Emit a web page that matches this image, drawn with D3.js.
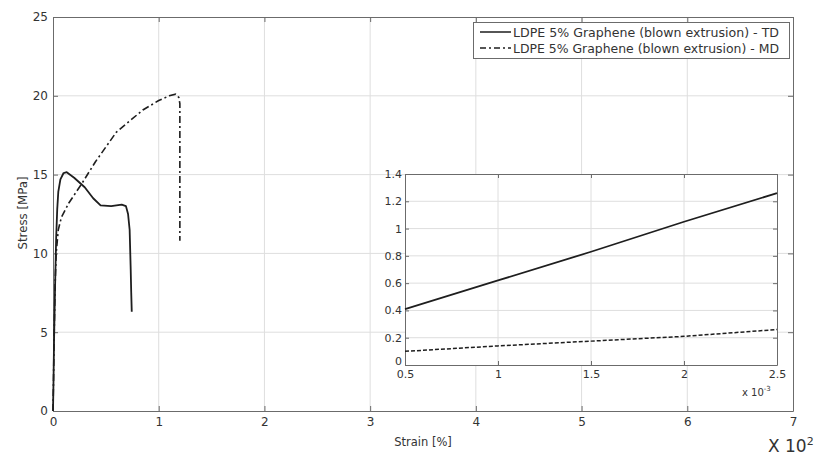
<!DOCTYPE html>
<html>
<head>
<meta charset="utf-8">
<script src="https://cdn.jsdelivr.net/npm/d3@7"></script>
<style>
  body { margin: 0; background: #fff; }
  text { font-family: "DejaVu Sans", "Liberation Sans", sans-serif; fill: #333; }
</style>
</head>
<body>
<div id="chart"></div>
<script>
// Main plot data (strain in units of 10^2 %, stress in MPa)
const tdStrain = [0, 0.005, 0.01, 0.02, 0.03, 0.04, 0.05, 0.07, 0.1, 0.13, 0.2, 0.3, 0.38, 0.45, 0.55, 0.65, 0.69, 0.71, 0.725, 0.735, 0.74, 0.745];
const tdStress = [0, 2, 4.5, 8, 11, 12.8, 13.9, 14.7, 15.1, 15.15, 14.8, 14.2, 13.5, 13.05, 13.0, 13.1, 13.0, 12.5, 11.5, 9.0, 7.5, 6.3];

const mdStrain = [0, 0.005, 0.01, 0.02, 0.03, 0.05, 0.08, 0.15, 0.27, 0.4, 0.6, 0.85, 1.0, 1.1, 1.16, 1.19, 1.2, 1.2];
const mdStress = [0, 2, 4.5, 8, 10, 11.5, 12.3, 13.2, 14.4, 15.8, 17.7, 19.1, 19.7, 20.0, 20.1, 19.9, 19.5, 10.8];

// Inset data (strain x 10^-3, stress)
const insetStrain = [0.5, 1, 1.5, 2, 2.5];
const insetTD = [0.41, 0.62, 0.83, 1.05, 1.26];
const insetMD = [0.10, 0.14, 0.175, 0.21, 0.26];

const xTicks = [0, 1, 2, 3, 4, 5, 6, 7];
const yTicks = [0, 5, 10, 15, 20, 25];
const insetXTicks = [0.5, 1, 1.5, 2, 2.5];
const insetYTicks = [0, 0.2, 0.4, 0.6, 0.8, 1, 1.2, 1.4];
const legendLabels = ['LDPE 5% Graphene (blown extrusion) - TD', 'LDPE 5% Graphene (blown extrusion) - MD'];

const W = 822, H = 461;
const svg = d3.select('#chart').append('svg')
    .attr('width', W).attr('height', H);

const frameColor = '#6b6b6b';
const gridColor = '#dedede';
const inkColor = '#1e1e1e';
const mdDash = '7,3,2,3';

// Scales
const x = d3.scaleLinear().domain([0, 7]).range([53, 793]);
const y = d3.scaleLinear().domain([0, 25]).range([411, 17]);

// Grid
const grid = svg.append('g');
grid.selectAll('.gx').data(xTicks.slice(1, -1)).join('line')
    .attr('x1', d => x(d)).attr('x2', d => x(d))
    .attr('y1', y(0)).attr('y2', y(25))
    .attr('stroke', gridColor).attr('stroke-width', 1);
grid.selectAll('.gy').data(yTicks.slice(1, -1)).join('line')
    .attr('x1', x(0)).attr('x2', x(7))
    .attr('y1', d => y(d)).attr('y2', d => y(d))
    .attr('stroke', gridColor).attr('stroke-width', 1);

// Axes with inward ticks
function styleAxis(g) {
    g.select('.domain').attr('stroke', frameColor);
    g.selectAll('.tick line').attr('stroke', frameColor);
    g.selectAll('.tick text').attr('fill', '#333').style('font-family', '"DejaVu Sans", sans-serif');
}

svg.append('g').attr('transform', `translate(0,${y(0)})`)
    .call(d3.axisBottom(x).tickValues(xTicks).tickSizeInner(-5).tickSizeOuter(0).tickPadding(6).tickFormat(d3.format('d')))
    .call(styleAxis).style('font-size', '12px');
svg.append('g').attr('transform', `translate(0,${y(25)})`)
    .call(d3.axisTop(x).tickValues(xTicks).tickSizeInner(-5).tickSizeOuter(0).tickFormat(''))
    .call(styleAxis);
svg.append('g').attr('transform', `translate(${x(0)},0)`)
    .call(d3.axisLeft(y).tickValues(yTicks).tickSizeInner(-5).tickSizeOuter(0).tickPadding(5).tickFormat(d3.format('d')))
    .call(styleAxis).style('font-size', '12px');
svg.append('g').attr('transform', `translate(${x(7)},0)`)
    .call(d3.axisRight(y).tickValues(yTicks).tickSizeInner(-5).tickSizeOuter(0).tickFormat(''))
    .call(styleAxis);

// Curves
const line = d3.line().x(d => x(d[0])).y(d => y(d[1]));
svg.append('path')
    .datum(d3.zip(tdStrain, tdStress))
    .attr('d', line)
    .attr('fill', 'none').attr('stroke', inkColor).attr('stroke-width', 1.8)
    .attr('stroke-linejoin', 'round');
svg.append('path')
    .datum(d3.zip(mdStrain, mdStress))
    .attr('d', line)
    .attr('fill', 'none').attr('stroke', inkColor).attr('stroke-width', 1.6)
    .attr('stroke-dasharray', mdDash);

// Axis titles
svg.append('text')
    .attr('x', (x(0) + x(7)) / 2).attr('y', 446)
    .attr('text-anchor', 'middle').style('font-size', '11.5px')
    .text('Strain [%]');
svg.append('text')
    .attr('transform', `translate(27,${213}) rotate(-90)`)
    .attr('text-anchor', 'middle').style('font-size', '11.5px')
    .attr('textLength', 73).attr('lengthAdjust', 'spacingAndGlyphs')
    .text('Stress [MPa]');

const mult = svg.append('text').attr('x', 768).attr('y', 452).style('font-size', '17px').attr('fill', '#333');
mult.append('tspan').text('X 10');
mult.append('tspan').attr('dy', -7).style('font-size', '11px').text('2');

// Legend
const legend = svg.append('g');
legend.append('rect')
    .attr('x', 473.5).attr('y', 22.5).attr('width', 316).attr('height', 36)
    .attr('fill', '#fff').attr('stroke', frameColor).attr('stroke-width', 1);
legendLabels.forEach((label, i) => {
    const ly = 32 + i * 16;
    legend.append('line')
        .attr('x1', 480).attr('x2', 511).attr('y1', ly).attr('y2', ly)
        .attr('stroke', inkColor).attr('stroke-width', i === 0 ? 1.5 : 1.3)
        .attr('stroke-dasharray', i === 0 ? null : '6,3,2,3');
    legend.append('text')
        .attr('x', 513).attr('y', ly + 4.5)
        .style('font-size', '12px')
        .attr('textLength', 266).attr('lengthAdjust', 'spacingAndGlyphs')
        .text(label);
});

// Inset
const ix = d3.scaleLinear().domain([0.5, 2.5]).range([405, 777]);
const iy = d3.scaleLinear().domain([0, 1.4]).range([365, 174]);
const inset = svg.append('g');
inset.append('rect')
    .attr('x', 405).attr('y', 174).attr('width', 372).attr('height', 191)
    .attr('fill', '#fff');
inset.selectAll('.igx').data(insetXTicks.slice(1, -1)).join('line')
    .attr('x1', d => ix(d)).attr('x2', d => ix(d))
    .attr('y1', iy(0)).attr('y2', iy(1.4))
    .attr('stroke', gridColor).attr('stroke-width', 1);
inset.selectAll('.igy').data(insetYTicks.slice(1, -1)).join('line')
    .attr('x1', ix(0.5)).attr('x2', ix(2.5))
    .attr('y1', d => iy(d)).attr('y2', d => iy(d))
    .attr('stroke', gridColor).attr('stroke-width', 1);

inset.append('g').attr('transform', `translate(0,${iy(0)})`)
    .call(d3.axisBottom(ix).tickValues(insetXTicks).tickSizeInner(-4).tickSizeOuter(0).tickPadding(5).tickFormat(d3.format('')))
    .call(styleAxis).style('font-size', '11px');
inset.append('g').attr('transform', `translate(0,${iy(1.4)})`)
    .call(d3.axisTop(ix).tickValues(insetXTicks).tickSizeInner(-4).tickSizeOuter(0).tickFormat(''))
    .call(styleAxis);
const iyAxis = inset.append('g').attr('transform', `translate(${ix(0.5)},0)`)
    .call(d3.axisLeft(iy).tickValues(insetYTicks).tickSizeInner(-4).tickSizeOuter(0).tickPadding(3).tickFormat(d3.format('')))
    .call(styleAxis).style('font-size', '11px');
// lift the "0" label a little so it clears the "0.5" below it
iyAxis.selectAll('.tick').filter(d => d === 0).select('text').attr('dy', '-0.05em');
inset.append('g').attr('transform', `translate(${ix(2.5)},0)`)
    .call(d3.axisRight(iy).tickValues(insetYTicks).tickSizeInner(-4).tickSizeOuter(0).tickFormat(''))
    .call(styleAxis);

const iline = d3.line().x(d => ix(d[0])).y(d => iy(d[1]));
inset.append('path')
    .datum(d3.zip(insetStrain, insetTD))
    .attr('d', iline)
    .attr('fill', 'none').attr('stroke', inkColor).attr('stroke-width', 1.8);
inset.append('path')
    .datum(d3.zip(insetStrain, insetMD))
    .attr('d', iline)
    .attr('fill', 'none').attr('stroke', inkColor).attr('stroke-width', 1.5)
    .attr('stroke-dasharray', '4,2');

const imult = inset.append('text').attr('x', 742).attr('y', 396).style('font-size', '10px');
imult.append('tspan').text('x 10');
imult.append('tspan').attr('dy', -5).style('font-size', '7px').text('-3');
</script>
</body>
</html>
